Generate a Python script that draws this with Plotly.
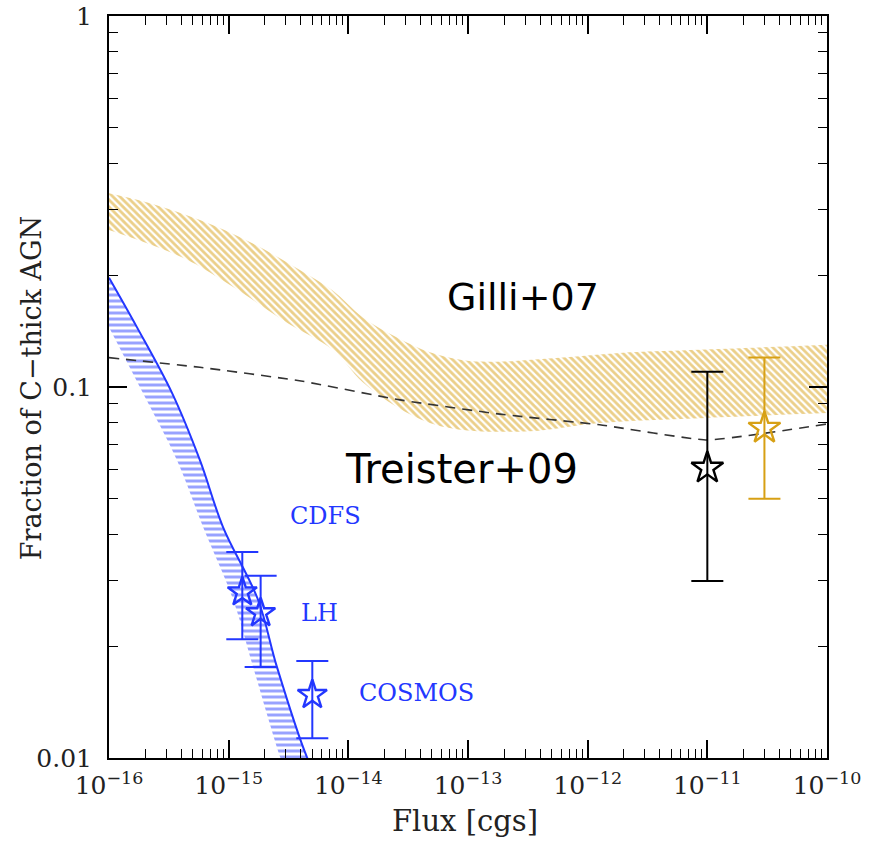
import math
import plotly.graph_objects as go

# ---------------- data ----------------
# Gilli+07 band (upper / lower edges)
gilli_up_x = [1e-16, 2.2e-16, 5.75e-16, 1.5e-15, 3.9e-15, 7.4e-15, 1.32e-14, 2.55e-14, 4.8e-14,
              9.1e-14, 1.74e-13, 6.2e-13, 2.25e-12, 8.7e-12, 1e-10]
gilli_up_y = [0.333, 0.313, 0.282, 0.246, 0.207, 0.182, 0.154, 0.136, 0.124,
              0.118, 0.117, 0.120, 0.124, 0.126, 0.130]
gilli_lo_x = [1e-16, 4.15e-16, 1.09e-15, 3.07e-15, 7.4e-15, 1.32e-14, 2.55e-14, 4.8e-14,
              9.1e-14, 3.3e-13, 1.26e-12, 8.7e-12, 1e-10]
gilli_lo_y = [0.265, 0.223, 0.186, 0.149, 0.126, 0.103, 0.0883, 0.080,
              0.0766, 0.076, 0.080, 0.0824, 0.0851]

# blue band (survey prediction)
blue_up_x = [1e-16, 1.71e-16, 3.36e-16, 5.75e-16, 8.95e-16, 1.76e-15, 2.53e-15, 4.5e-15, 5.1e-15]
blue_up_y = [0.197, 0.145, 0.0964, 0.0635, 0.042, 0.0267, 0.0176, 0.01007, 0.0093]
blue_lo_x = [1e-16, 1.92e-16, 3.7e-16, 6.1e-16, 1.09e-15, 1.6e-15, 2.69e-15, 2.95e-15]
blue_lo_y = [0.145, 0.0964, 0.0635, 0.042, 0.0267, 0.0176, 0.01007, 0.0093]

# Treister+09 dashed curve
treister_x = [1e-16, 5.75e-16, 3.9e-15, 2.7e-14, 1.85e-13, 1.26e-12, 1e-11, 1e-10]
treister_y = [0.120, 0.113, 0.104, 0.0923, 0.0845, 0.0791, 0.072, 0.0795]

# survey points (CDFS, LH, COSMOS)
survey_names = ["CDFS", "LH", "COSMOS"]
survey_x = [1.3e-15, 1.85e-15, 5e-15]
survey_y = [0.028, 0.0246, 0.0148]
survey_hi = [0.0359, 0.031, 0.01825]
survey_lo = [0.0209, 0.0176, 0.0113]
survey_label_x = [6.4e-15, 5.7e-15, 3.74e-14]
survey_label_y = [0.0449, 0.0246, 0.0150]

# bright-flux points
black_x, black_y, black_hi, black_lo = [1e-11], [0.0605], [0.110], [0.030]
gold_x, gold_y, gold_hi, gold_lo = [3e-11], [0.0775], [0.120], [0.050]

# tick labels
x_tickvals = [1e-16, 1e-15, 1e-14, 1e-13, 1e-12, 1e-11, 1e-10]
x_ticktext = ["10<sup>\u221216</sup>", "10<sup>\u221215</sup>", "10<sup>\u221214</sup>",
              "10<sup>\u221213</sup>", "10<sup>\u221212</sup>", "10<sup>\u221211</sup>",
              "10<sup>\u221210</sup>"]
y_tickvals = [0.01, 0.1, 1]
y_ticktext = ["0.01", "0.1", "1"]

# ---------------- styles ----------------
GOLD = "rgb(215,160,20)"
BLUE = "rgb(35,55,255)"
SERIF = "DejaVu Serif"

x_minor = [k * 10.0 ** e for e in range(-16, -10) for k in range(2, 10)]
y_minor = [k * 10.0 ** e for e in range(-2, 0) for k in range(2, 10)]

fig = go.Figure()

# Gilli band
fig.add_trace(go.Scatter(x=gilli_lo_x, y=gilli_lo_y, mode="lines", line=dict(width=0, shape="spline"),
                         hoverinfo="skip", showlegend=False))
fig.add_trace(go.Scatter(x=gilli_up_x, y=gilli_up_y, mode="lines", line=dict(width=0, shape="spline"),
                         fill="tonexty", fillcolor="rgba(0,0,0,0)",
                         fillpattern=dict(shape="\\", fgcolor=GOLD, size=5, solidity=0.55),
                         hoverinfo="skip", showlegend=False))

# blue band
fig.add_trace(go.Scatter(x=blue_lo_x, y=blue_lo_y, mode="lines", line=dict(width=0, shape="spline"),
                         hoverinfo="skip", showlegend=False))
fig.add_trace(go.Scatter(x=blue_up_x, y=blue_up_y, mode="lines", line=dict(width=2, color=BLUE, shape="spline"),
                         fill="tonexty", fillcolor="rgba(0,0,0,0)",
                         fillpattern=dict(shape="-", fgcolor="rgb(50,70,255)", size=6, solidity=0.5),
                         hoverinfo="skip", showlegend=False))

# Treister dashed
fig.add_trace(go.Scatter(x=treister_x, y=treister_y, mode="lines",
                         line=dict(color="#333333", width=1.6, dash="10px,7px", shape="spline", smoothing=0.4),
                         showlegend=False))

def add_points(xs, ys, his, los, color, size):
    fig.add_trace(go.Scatter(
        x=xs, y=ys, mode="markers",
        marker=dict(symbol="star-open", size=size, color=color, line=dict(width=2.4, color=color)),
        error_y=dict(type="data", symmetric=False,
                     array=[h - y for h, y in zip(his, ys)],
                     arrayminus=[y - l for l, y in zip(los, ys)],
                     color=color, thickness=2, width=16),
        showlegend=False))

add_points(survey_x, survey_y, survey_hi, survey_lo, BLUE, 22)
add_points(black_x, black_y, black_hi, black_lo, "black", 24)
add_points(gold_x, gold_y, gold_hi, gold_lo, GOLD, 24)

annotations = []
for name, lx, ly in zip(survey_names, survey_label_x, survey_label_y):
    annotations.append(dict(x=math.log10(lx), y=math.log10(ly), xref="x", yref="y", text=name,
                            xanchor="center", yanchor="middle",
                            showarrow=False, font=dict(family=SERIF, size=24, color=BLUE)))
annotations.append(dict(x=math.log10(2.9e-13), y=math.log10(0.175), xref="x", yref="y", text="Gilli+07",
                        xanchor="center", yanchor="middle",
                        showarrow=False, font=dict(family="DejaVu Sans", size=38, color="black")))
annotations.append(dict(x=math.log10(8.9e-14), y=math.log10(0.0601), xref="x", yref="y", text="Treister+09",
                        xanchor="center", yanchor="middle",
                        showarrow=False, font=dict(family="DejaVu Sans", size=40, color="black")))
# axis titles
annotations.append(dict(x=-0.107, y=0.4987, xref="paper", yref="paper", text="Fraction of C\u2212thick AGN",
                        xanchor="center", yanchor="middle",
                        textangle=-90, showarrow=False, font=dict(family=SERIF, size=27, color="#222")))
annotations.append(dict(x=0.496, y=-0.0849, xref="paper", yref="paper", text="Flux [cgs]",
                        xanchor="center", yanchor="middle",
                        showarrow=False, font=dict(family=SERIF, size=29, color="#222")))

axis_common = dict(type="log", showgrid=False, zeroline=False, showline=True, linecolor="black",
                   linewidth=2, mirror="ticks", ticks="inside", ticklen=18, tickwidth=1.6,
                   tickcolor="black", automargin=False,
                   tickfont=dict(family=SERIF, size=25, color="#222"))

fig.update_layout(
    width=875, height=841,
    margin=dict(l=109, r=48, t=16, b=83, autoexpand=False),
    plot_bgcolor="white", paper_bgcolor="white",
    showlegend=False,
    annotations=annotations,
    xaxis=dict(range=[-16, -10], tickmode="array", tickvals=x_tickvals, ticktext=x_ticktext,
               minor=dict(tickmode="array", tickvals=x_minor, ticks="inside", ticklen=9,
                          tickwidth=1.4, tickcolor="black"),
               ticklabelstandoff=4, **axis_common),
    yaxis=dict(range=[-2, 0], tickmode="array", tickvals=y_tickvals, ticktext=y_ticktext,
               minor=dict(tickmode="array", tickvals=y_minor, ticks="inside", ticklen=9,
                          tickwidth=1.4, tickcolor="black"),
               ticklabelstandoff=10, **axis_common),
)

fig.write_html("out.html")
